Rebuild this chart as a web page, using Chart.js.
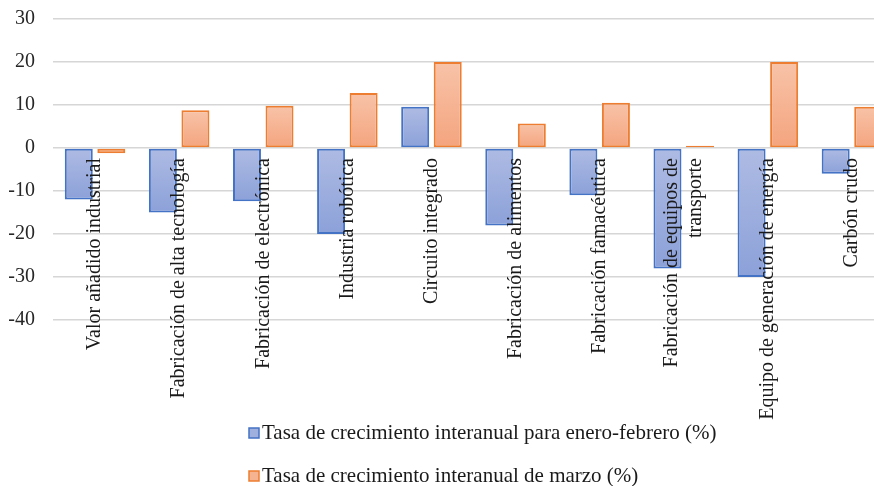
<!DOCTYPE html>
<html>
<head>
<meta charset="utf-8">
<script src="https://cdn.jsdelivr.net/npm/chart.js@4.4.1/dist/chart.umd.min.js"></script>
<style>
    html, body { margin: 0; padding: 0; background: #fff; overflow: hidden; }
    #wrap { position: relative; width: 900px; height: 486px; }
</style>
</head>
<body>
<div id="wrap"><canvas id="growth-chart"></canvas></div>
<script>
    const categories = [
        'Valor añadido industrial',
        'Fabricación de alta tecnología',
        'Fabricación de electrónica',
        'Industria robótica',
        'Circuito integrado',
        'Fabricación de alimentos',
        'Fabricación famacéutica',
        ['Fabricación de equipos de', 'transporte'],
        'Equipo de generación de energía',
        'Carbón crudo'
    ];
    const eneroFebrero = [-12, -15, -12.4, -20, 9.6, -18, -11, -28, -30, -6];
    const marzo = [-1.2, 8.8, 9.8, 12.8, 20, 5.7, 10.5, 0.5, 20, 9.6];
    const yTicks = [-40, -30, -20, -10, 0, 10, 20, 30];

    const serif = "'Liberation Serif', 'Times New Roman', serif";

    // vertical gradient from the zero line to the value, lighter on top
    function barFill(topColor, bottomColor) {
        return function (c) {
            const chart = c.chart;
            if (!chart.chartArea || c.type !== 'data') return topColor;
            const y = chart.scales.y;
            const a = y.getPixelForValue(0);
            const b = y.getPixelForValue(c.raw);
            const g = chart.ctx.createLinearGradient(0, Math.min(a, b), 0, Math.max(a, b) + 0.01);
            g.addColorStop(0, topColor);
            g.addColorStop(1, bottomColor);
            return g;
        };
    }

    // two-line category labels: centre the lines on the tick instead of starting there
    function centreLabelLines(scale) {
        const items = scale.getLabelItems();
        items.forEach(item => {
            if (Array.isArray(item.label) && !item.centred) {
                const lh = scale.options.ticks.font.size * 1.2;
                item.options.translation[0] -= (item.label.length - 1) * lh / 2;
                item.centred = true;
            }
        });
    }

    // two legend rows stacked, left aligned
    const stackedLegend = {
        id: 'stackedLegend',
        beforeDraw(chart) {
            centreLabelLines(chart.scales.x);
        },
        afterDraw(chart, args, opts) {
            const ctx = chart.ctx;
            ctx.save();
            ctx.font = opts.font;
            ctx.textBaseline = 'middle';
            ctx.textAlign = 'left';
            chart.data.datasets.forEach((ds, i) => {
                const y = opts.top + i * opts.rowGap;
                ctx.fillStyle = ds.legendFill;
                ctx.fillRect(opts.left, y - 5, 10, 10);
                ctx.strokeStyle = ds.borderColor;
                ctx.lineWidth = 1.5;
                ctx.strokeRect(opts.left, y - 5, 10, 10);
                ctx.fillStyle = '#1a1a1a';
                ctx.fillText(ds.label, opts.left + 13, y);
            });
            ctx.restore();
        }
    };

    const config = {
        type: 'bar',
        data: {
            labels: categories,
            datasets: [
                {
                    label: 'Tasa de crecimiento interanual para enero-febrero (%)',
                    data: eneroFebrero,
                    backgroundColor: barFill('#aebbe3', '#8ca1d9'),
                    legendFill: '#9fb0df',
                    borderColor: '#4472c4',
                    borderWidth: 2,
                    borderSkipped: false
                },
                {
                    label: 'Tasa de crecimiento interanual de marzo (%)',
                    data: marzo,
                    backgroundColor: barFill('#f8c3a8', '#f4a47e'),
                    legendFill: '#f6b392',
                    borderColor: '#ed7d31',
                    borderWidth: 2,
                    borderSkipped: false
                }
            ]
        },
        options: {
            responsive: true,
            maintainAspectRatio: false,
            animation: false,
            events: [],
            categoryPercentage: 0.774,
            barPercentage: 0.86,
            layout: {
                padding: { top: 19, right: 6, bottom: 166, left: 0 }
            },
            scales: {
                x: {
                    position: { y: 0 },
                    grid: { display: false, drawTicks: false },
                    border: { display: false },
                    ticks: {
                        z: 1,
                        minRotation: 90,
                        maxRotation: 90,
                        autoSkip: false,
                        padding: 10,
                        color: '#1a1a1a',
                        font: { family: serif, size: 20 }
                    }
                },
                y: {
                    min: -40,
                    max: 30,
                    afterFit: s => { s.width = 53; },
                    afterBuildTicks: s => { s.ticks = yTicks.map(v => ({ value: v })); },
                    grid: {
                        color: '#d6d6d6',
                        lineWidth: 1.5,
                        tickLength: 18,
                        tickColor: 'rgba(0,0,0,0)'
                    },
                    border: { display: false },
                    ticks: {
                        padding: 0,
                        color: '#262626',
                        font: { family: serif, size: 20 }
                    }
                }
            },
            plugins: {
                legend: { display: false },
                tooltip: { enabled: false },
                stackedLegend: {
                    left: 249,
                    top: 433,
                    rowGap: 43,
                    font: '21px ' + serif
                }
            }
        },
        plugins: [stackedLegend]
    };

    new Chart(document.getElementById('growth-chart'), config);
</script>
</body>
</html>
